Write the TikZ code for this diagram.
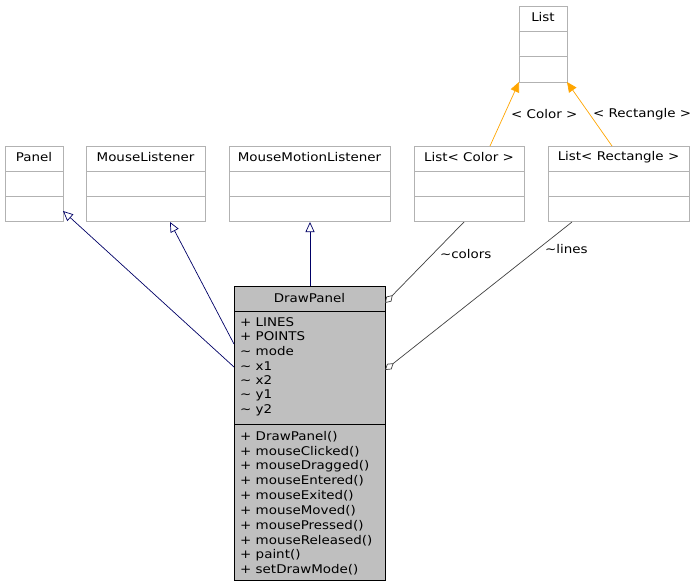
\documentclass[tikz,border=0pt]{standalone}
\usepackage{fontspec}
\setmainfont{DejaVu Sans}[FakeStretch=1.12]
\usetikzlibrary{arrows.meta}
\definecolor{tor}{HTML}{FFA500}
\begin{document}
\begin{tikzpicture}[x=1pt,y=-1pt,font=\fontsize{12}{13}\selectfont,
  box/.style={draw=black!30,fill=white,line width=0.8pt},
  ttl/.style={anchor=center,inner sep=0},
  txt/.style={anchor=west,inner sep=0},
  inh/.style={draw=blue!40!black,line width=0.7pt,-{Triangle[open,length=10pt,width=9pt]}},
  agg/.style={draw=black!75,line width=0.7pt,{Diamond[open,length=11pt,width=7pt]}-},
  tmpl/.style={draw=tor,line width=0.7pt,-{Triangle[fill=tor,length=10pt,width=9pt]}}]
\useasboundingbox (0,0) rectangle (695,588);
\newcommand{\umlbox}[6]{% name x1 y1 x2 y2 title
  \draw[box] (#2,#3) rectangle (#4,#5);
  \draw[box] (#2,#3+25) -- (#4,#3+25);
  \draw[box] (#2,#3+50) -- (#4,#3+50);
  \node[ttl] (#1) at ({(#2+#4)/2},{#3+11}) {#6};
}
\umlbox{list}{519}{6}{567}{82}{List}
\umlbox{panel}{5}{146}{63}{221}{Panel}
\umlbox{ml}{86}{146}{205}{221}{MouseListener}
\umlbox{mml}{229}{146}{390}{221}{MouseMotionListener}
\umlbox{lc}{414}{146}{524}{221}{List< Color >}
\umlbox{lr}{548}{146}{689}{221}{List< Rectangle >}
\draw[fill=black!25,draw=black,line width=0.8pt] (234,286) rectangle (385,580);
\draw[line width=0.8pt] (234,311) -- (385,311) (234,424) -- (385,424);
\node[ttl] (dp) at (309.5,298) {DrawPanel};
\foreach \t [count=\i] in {+ LINES,+ POINTS,\textasciitilde\ mode,\textasciitilde\ x1,\textasciitilde\ x2,\textasciitilde\ y1,\textasciitilde\ y2}
  \node[txt] at (240,{307+\i*14.7}) {\t};
\foreach \t [count=\i] in {+ DrawPanel(),+ mouseClicked(),+ mouseDragged(),+ mouseEntered(),+ mouseExited(),+ mouseMoved(),+ mousePressed(),+ mouseReleased(),+ paint(),+ setDrawMode()}
  \node[txt] at (240,{422+\i*14.8}) {\t};
\coordinate (dpA) at (234,367);
\coordinate (dpB) at (234,344);
\coordinate (dpC) at (310,286);
\coordinate (dpD) at (385,303);
\coordinate (dpE) at (385,370);
\draw[inh] (dpA) -- (63,211);
\draw[inh] (dpB) -- (170,222);
\draw[inh] (dpC) -- (310,222);
\draw[agg] (dpD) -- node[pos=0.6,right=4pt] {\textasciitilde colors} (464,222);
\draw[agg] (dpE) -- node[pos=0.82,right=3pt] {\textasciitilde lines} (572,222);
\draw[tmpl] (490,146) -- node[pos=0.5,right=3pt] {< Color >} (519,82);
\draw[tmpl] (612,146) -- node[pos=0.5,right=0pt] {< Rectangle >} (567,82);
\end{tikzpicture}
\end{document}
